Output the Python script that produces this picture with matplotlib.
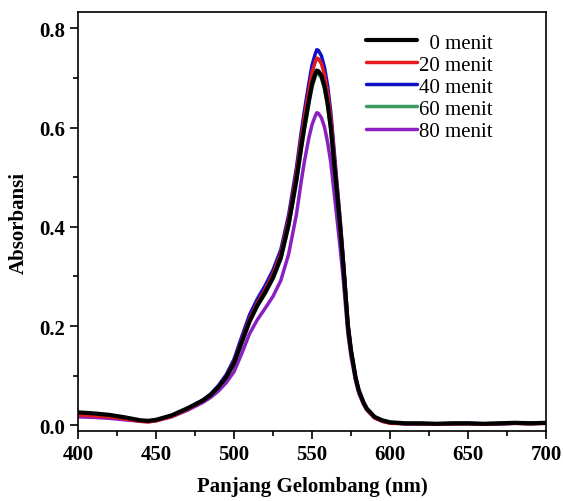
import numpy as np
import matplotlib.pyplot as plt
from matplotlib.ticker import MultipleLocator

# wavelength grid (nm)
wl = [400, 410, 420, 430, 440, 445, 450, 460, 470, 480, 485, 490, 495, 500,
      505, 510, 515, 520, 525, 530, 535, 540, 543, 545, 548, 550, 552, 553,
      554, 556, 558, 560, 562, 565, 568, 570, 573, 575, 578, 580, 583, 585,
      590, 595, 600, 610, 620, 630, 640, 650, 660, 670, 680, 690, 700]

# absorbance
a_0 = [0.026, 0.024, 0.021, 0.016, 0.010, 0.009, 0.011, 0.020, 0.034, 0.050,
       0.061, 0.077, 0.097, 0.125, 0.168, 0.210, 0.242, 0.268, 0.298, 0.338,
       0.405, 0.495, 0.560, 0.600, 0.655, 0.688, 0.708, 0.715, 0.714, 0.705,
       0.683, 0.648, 0.600, 0.500, 0.400, 0.325, 0.200, 0.150, 0.095, 0.070,
       0.046, 0.034, 0.017, 0.010, 0.006, 0.004, 0.004, 0.003, 0.004, 0.004,
       0.003, 0.004, 0.005, 0.004, 0.005]
a_20 = [0.021, 0.019, 0.017, 0.013, 0.008, 0.007, 0.009, 0.018, 0.032, 0.049,
        0.061, 0.077, 0.098, 0.128, 0.172, 0.215, 0.247, 0.274, 0.305, 0.346,
        0.415, 0.508, 0.577, 0.619, 0.676, 0.711, 0.732, 0.740, 0.739, 0.729,
        0.706, 0.670, 0.620, 0.515, 0.410, 0.332, 0.203, 0.151, 0.094, 0.068,
        0.044, 0.032, 0.015, 0.008, 0.004, 0.003, 0.003, 0.002, 0.003, 0.003,
        0.002, 0.003, 0.004, 0.003, 0.004]
a_40 = [0.024, 0.022, 0.019, 0.015, 0.009, 0.008, 0.010, 0.019, 0.033, 0.051,
        0.063, 0.080, 0.102, 0.133, 0.179, 0.223, 0.255, 0.282, 0.313, 0.354,
        0.424, 0.519, 0.589, 0.632, 0.690, 0.726, 0.748, 0.757, 0.756, 0.745,
        0.721, 0.684, 0.632, 0.524, 0.416, 0.336, 0.205, 0.152, 0.095, 0.069,
        0.045, 0.033, 0.016, 0.009, 0.005, 0.003, 0.003, 0.003, 0.003, 0.004,
        0.003, 0.003, 0.004, 0.004, 0.004]
a_60 = [0.022, 0.020, 0.018, 0.014, 0.009, 0.008, 0.010, 0.019, 0.033, 0.050,
        0.061, 0.076, 0.096, 0.124, 0.166, 0.208, 0.240, 0.266, 0.295, 0.335,
        0.401, 0.490, 0.554, 0.594, 0.649, 0.682, 0.702, 0.710, 0.709, 0.700,
        0.678, 0.644, 0.596, 0.497, 0.398, 0.323, 0.199, 0.149, 0.094, 0.069,
        0.046, 0.034, 0.017, 0.009, 0.005, 0.004, 0.003, 0.003, 0.004, 0.003,
        0.003, 0.004, 0.004, 0.004, 0.005]
a_80 = [0.017, 0.016, 0.014, 0.011, 0.008, 0.007, 0.009, 0.017, 0.030, 0.046,
        0.056, 0.069, 0.086, 0.108, 0.145, 0.185, 0.213, 0.236, 0.260, 0.292,
        0.345, 0.425, 0.490, 0.530, 0.580, 0.606, 0.623, 0.630, 0.629, 0.620,
        0.601, 0.570, 0.530, 0.445, 0.358, 0.294, 0.184, 0.138, 0.088, 0.064,
        0.042, 0.031, 0.015, 0.008, 0.005, 0.003, 0.003, 0.003, 0.003, 0.003,
        0.003, 0.003, 0.004, 0.003, 0.004]

labels = ["  0 menit", "20 menit", "40 menit", "60 menit", "80 menit"]
series = [a_0, a_20, a_40, a_60, a_80]
colors = ["#000000", "#e3191e", "#1010c8", "#3d9a62", "#8a1fc2"]

plt.rcParams['font.family'] = ['Liberation Serif', 'DejaVu Serif']

fig = plt.figure(figsize=(5.63, 5.02), dpi=100)
ax = fig.add_axes([0.1385, 0.139, 0.8315, 0.835])

# draw black last so it sits on top like the original
lines = {}
for i in [4, 3, 2, 1, 0]:
    lw = 3.0 if i == 0 else 2.5
    ln, = ax.plot(wl, series[i], color=colors[i], lw=lw, label=labels[i],
                  solid_capstyle='round', solid_joinstyle='round')
    lines[i] = ln

ax.set_xlim(400, 700)
ax.set_ylim(-0.012, 0.833)
ax.xaxis.set_major_locator(MultipleLocator(50))
ax.xaxis.set_minor_locator(MultipleLocator(25))
ax.yaxis.set_major_locator(MultipleLocator(0.2))
ax.yaxis.set_minor_locator(MultipleLocator(0.1))
ax.yaxis.set_major_formatter(plt.FuncFormatter(lambda v, p: f"{v:.1f}"))

ax.tick_params(which='both', direction='out', top=False, right=False,
               width=1.2, labelsize=15)
ax.tick_params(which='major', length=6)
ax.tick_params(which='minor', length=3.5)
for lab in ax.get_xticklabels() + ax.get_yticklabels():
    lab.set_fontweight('bold')
for sp in ax.spines.values():
    sp.set_linewidth(1.2)

ax.set_xlabel("Panjang Gelombang (nm)", fontsize=15, fontweight='bold',
              labelpad=8)
ax.set_ylabel("Absorbansi", fontsize=15, fontweight='bold', labelpad=7)

leg = ax.legend([lines[i] for i in range(5)], labels, loc='upper left',
                bbox_to_anchor=(0.585, 0.985), frameon=False, fontsize=15,
                handlelength=2.45, handletextpad=0.05, labelspacing=0.12,
                borderaxespad=0.3)

fig.savefig("out.png", dpi=100)
